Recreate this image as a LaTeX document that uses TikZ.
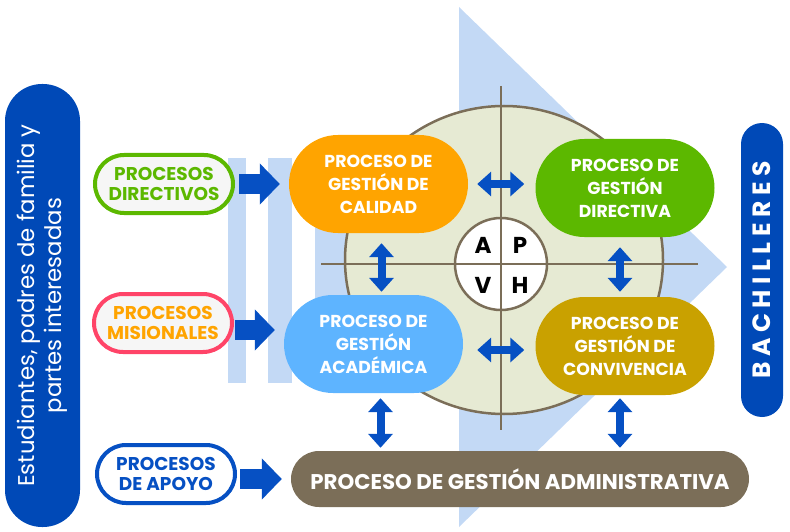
\documentclass[tikz,border=0pt]{standalone}
\usepackage{fontspec}
\setmainfont{Poppins}
\usetikzlibrary{arrows.meta}
\definecolor{azul}{HTML}{0049B7}
\definecolor{azulf}{HTML}{0650C3}
\definecolor{celeste}{HTML}{C3D9F5}
\definecolor{crema}{HTML}{E6EAD3}
\definecolor{cafe}{HTML}{7B6E58}
\definecolor{naranja}{HTML}{FFA400}
\definecolor{verde}{HTML}{5CB800}
\definecolor{cielo}{HTML}{5EB4FF}
\definecolor{oro}{HTML}{C9A100}
\definecolor{rosa}{HTML}{FF4468}
\definecolor{gris}{HTML}{F6F6F6}

\begin{document}
\begin{tikzpicture}[x=1pt,y=-1pt,
  proc/.style={rounded corners=49pt, minimum width=179pt, minimum height=98pt,
    inner sep=0pt, text=white, align=center, font=\bfseries\fontsize{17.3}{23}\selectfont},
  ovalo/.style={draw, line width=4pt, fill=gris, rounded corners=29pt,
    minimum width=138pt, minimum height=58pt, inner sep=0pt, align=center,
    font=\bfseries\fontsize{18.5}{20}\selectfont},
  flecha/.style={azulf, line width=20pt, -{Triangle[width=40pt,length=20pt]}},
  doble/.style={azulf, line width=8pt,
    {Triangle[width=24pt,length=14pt]}-{Triangle[width=24pt,length=14pt]}},
  letra/.style={font=\bfseries\fontsize{23}{23}\selectfont}]
  \useasboundingbox (0,0) rectangle (790,532);
  % fondo
  \fill[celeste] (228,158) rectangle (246,383);
  \fill[celeste] (268,158) rectangle (292,383);
  \fill[celeste] (315,157) -- (459,157) -- (459,7) -- (727,267) -- (459,527)
    -- (459,383) -- (315,383) -- cycle;
  % ciclo
  \draw[cafe, line width=2.5pt, fill=crema] (504,260) ellipse [x radius=159pt, y radius=154pt];
  \draw[cafe, line width=2.5pt, fill=white] (501,264) circle [radius=46pt];
  \draw[cafe, line width=2.5pt] (501,86) -- (501,430);
  \draw[cafe, line width=2.5pt] (321,264) -- (698,264);
  \node[letra] (a) at (483,245) {A};
  \node[letra] (p) at (520,245) {P};
  \node[letra] (v) at (483,285) {V};
  \node[letra] (h) at (520,285) {H};
  % procesos
  \node[proc, fill=naranja] (cal) at (378.5,184) {PROCESO DE\\GESTIÓN DE\\CALIDAD};
  \node[proc, fill=verde] (dir) at (625,188) {PROCESO DE\\GESTIÓN\\DIRECTIVA};
  \node[proc, fill=cielo] (aca) at (373.5,344) {PROCESO DE\\GESTIÓN\\ACADÉMICA};
  \node[proc, fill=oro] (con) at (625,346) {PROCESO DE\\GESTIÓN DE\\CONVIVENCIA};
  \node[proc, fill=cafe, minimum width=458pt, minimum height=56pt, rounded corners=28pt,
    font=\bfseries\fontsize{21.3}{21}\selectfont] (adm) at (520,479)
    {PROCESO DE GESTIÓN ADMINISTRATIVA};
  % laterales
  \node[fill=azul, rotate=90, minimum width=443pt, minimum height=75pt, rounded corners=37pt,
    inner sep=0pt, text=white, align=center, font=\fontsize{22.8}{27}\selectfont] (est)
    at (42.5,305.5) {Estudiantes, padres de familia y\\partes interesadas};
  \node[fill=azul, rotate=90, minimum width=294pt, minimum height=42pt, rounded corners=21pt,
    inner sep=0pt, text=white, font=\bfseries\fontsize{25}{25}\selectfont\addfontfeatures{LetterSpace=22}]
    (bach) at (762,270) {BACHILLERES};
  \node[ovalo, draw=verde, text=verde] (odir) at (164,184) {PROCESOS\\DIRECTIVOS};
  \node[ovalo, draw=rosa, text=naranja] (omis) at (163,323) {PROCESOS\\MISIONALES};
  \node[ovalo, draw=azulf, fill=white, text=azulf] (oapo) at (166,474) {PROCESOS\\DE APOYO};
  % flechas
  \draw[flecha, shorten <=4pt, shorten >=9pt] (odir.east) -- (cal.west);
  \draw[flecha, shorten <=1pt, shorten >=9pt] ([yshift=-7pt]omis.east) -- ([yshift=-7pt]omis.east -| aca.west);
  \draw[flecha, shorten <=3pt, shorten >=9pt] ([yshift=-5pt]oapo.east) -- ([yshift=-5pt]oapo.east -| adm.west);
  \draw[doble, shorten <=9pt, shorten >=11pt] (cal.east) -- (cal.east -| dir.west);
  \draw[doble, shorten <=14pt, shorten >=11pt] ([yshift=-6pt]aca.east) -- ([yshift=-6pt]aca.east -| con.west);
  \draw[doble, shorten <=10pt, shorten >=3pt] ([xshift=3pt]cal.south) -- ([xshift=3pt]cal.south |- aca.north);
  \draw[doble, shorten <=10pt, shorten >=5pt] ([xshift=-5pt]dir.south) -- ([xshift=-5pt]dir.south |- con.north);
  \draw[doble, shorten <=5pt, shorten >=3pt] ([xshift=7pt]aca.south) -- ([xshift=7pt]aca.south |- adm.north);
  \draw[doble, shorten <=3pt, shorten >=3pt] ([xshift=-5pt]con.south) -- ([xshift=-5pt]con.south |- adm.north);
\end{tikzpicture}
\end{document}
